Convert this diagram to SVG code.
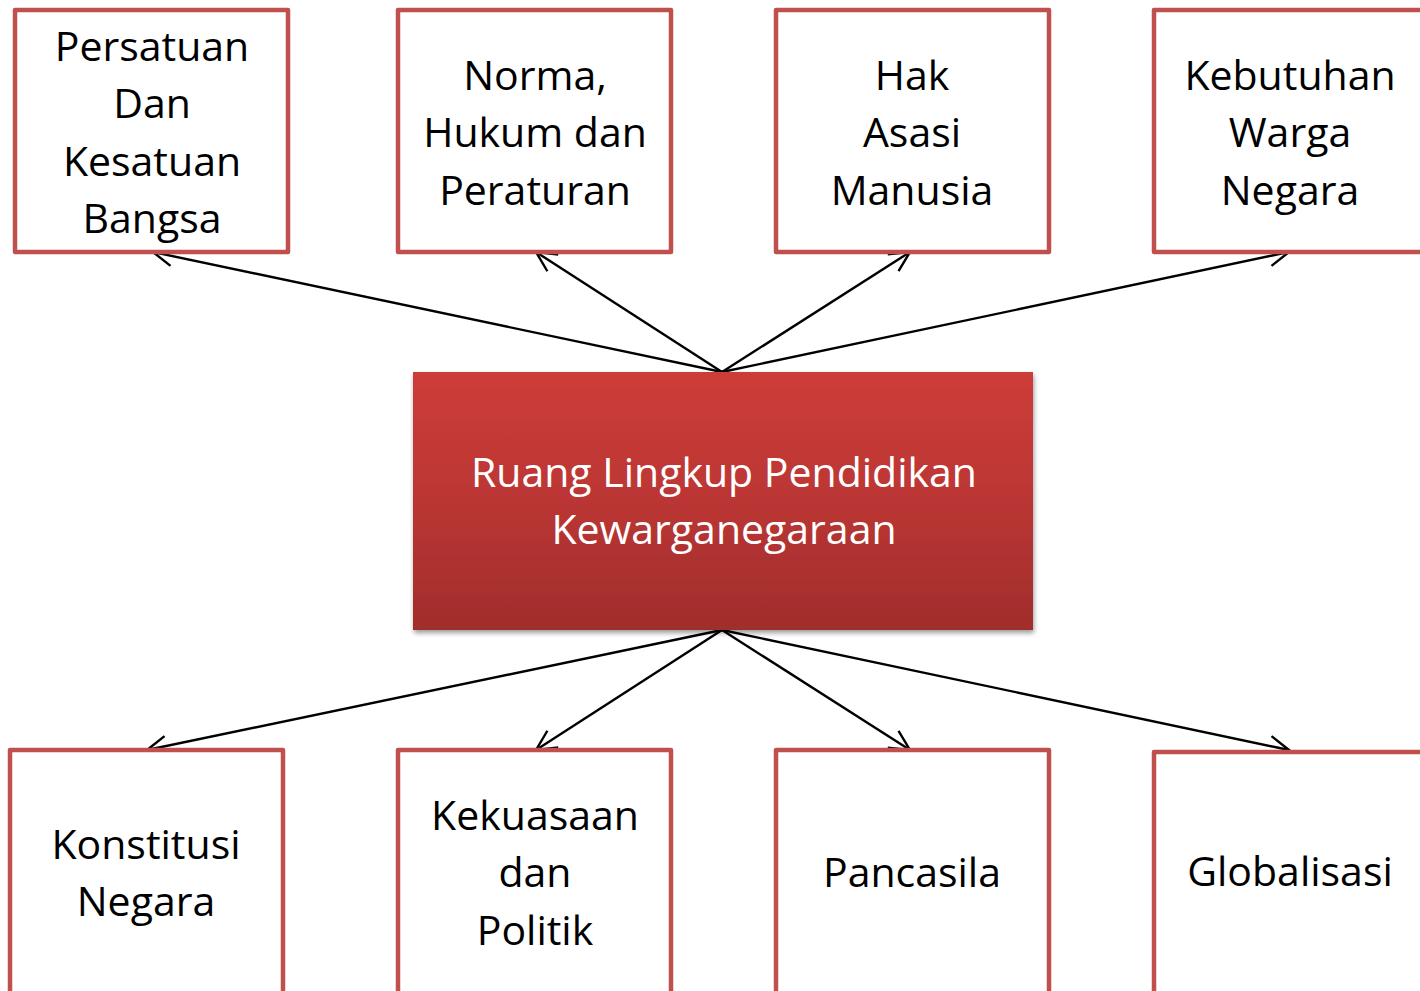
<svg xmlns="http://www.w3.org/2000/svg" width="1420" height="991" viewBox="0 0 1420 991">
<style>
.box{fill:#fff;stroke:#C0504D;stroke-width:4.5;stroke-linejoin:round}
.t{font-family:"Open Sans","Liberation Sans",sans-serif;font-size:41px;fill:#000;text-anchor:middle}
.w{fill:#fff}
.c{stroke:#000;stroke-width:2.4;fill:none;marker-end:url(#ah)}
</style>
<defs>
<linearGradient id="g" x1="0" y1="0" x2="0" y2="1">
<stop offset="0" stop-color="#CD3C39"/>
<stop offset="0.5" stop-color="#BB3634"/>
<stop offset="1" stop-color="#A02D2B"/>
</linearGradient>
<filter id="sh" x="-5%" y="-5%" width="110%" height="115%">
<feGaussianBlur in="SourceAlpha" stdDeviation="2.5"/>
<feOffset dx="1" dy="3"/>
<feComponentTransfer><feFuncA type="linear" slope="0.4"/></feComponentTransfer>
<feMerge><feMergeNode/><feMergeNode in="SourceGraphic"/></feMerge>
</filter>
<marker id="ah" markerWidth="26" markerHeight="26" refX="21" refY="11" orient="auto" markerUnits="userSpaceOnUse">
<path d="M1,1 L21,11 L1,21" fill="none" stroke="#000" stroke-width="2.4"/>
</marker>
</defs>
<g id="connectors">
<line class="c" x1="722" y1="372" x2="153" y2="252"/>
<line class="c" x1="722" y1="372" x2="536" y2="252"/>
<line class="c" x1="722" y1="372" x2="910" y2="252"/>
<line class="c" x1="722" y1="372" x2="1289" y2="252"/>
<line class="c" x1="722" y1="630" x2="147" y2="750"/>
<line class="c" x1="722" y1="630" x2="536" y2="750"/>
<line class="c" x1="722" y1="630" x2="910" y2="750"/>
<line class="c" x1="722" y1="630" x2="1289" y2="750"/>
</g>
<g id="center">
<rect x="413" y="372" width="620" height="258" fill="url(#g)" filter="url(#sh)"/>
<text class="t w" x="724" y="487">Ruang Lingkup Pendidikan</text>
<text class="t w" x="724" y="544">Kewarganegaraan</text>
</g>
<g id="n1">
<rect class="box" x="15" y="10" width="273" height="242"/>
<text class="t" x="152" y="61">Persatuan</text>
<text class="t" x="152" y="118">Dan</text>
<text class="t" x="152" y="176">Kesatuan</text>
<text class="t" x="152" y="233">Bangsa</text>
</g>
<g id="n2">
<rect class="box" x="398" y="10" width="273" height="242"/>
<text class="t" x="535" y="90">Norma,</text>
<text class="t" x="535" y="147">Hukum dan</text>
<text class="t" x="535" y="205">Peraturan</text>
</g>
<g id="n3">
<rect class="box" x="776" y="10" width="273" height="242"/>
<text class="t" x="912" y="90">Hak</text>
<text class="t" x="912" y="147">Asasi</text>
<text class="t" x="912" y="205">Manusia</text>
</g>
<g id="n4">
<rect class="box" x="1154" y="10" width="300" height="242"/>
<text class="t" x="1290" y="90">Kebutuhan</text>
<text class="t" x="1290" y="147">Warga</text>
<text class="t" x="1290" y="205">Negara</text>
</g>
<g id="n5">
<rect class="box" x="10" y="750" width="273" height="260"/>
<text class="t" x="146" y="859">Konstitusi</text>
<text class="t" x="146" y="916">Negara</text>
</g>
<g id="n6">
<rect class="box" x="398" y="750" width="273" height="260"/>
<text class="t" x="535" y="830">Kekuasaan</text>
<text class="t" x="535" y="887">dan</text>
<text class="t" x="535" y="945">Politik</text>
</g>
<g id="n7">
<rect class="box" x="776" y="750" width="273" height="260"/>
<text class="t" x="912" y="887">Pancasila</text>
</g>
<g id="n8">
<rect class="box" x="1154" y="752" width="300" height="260"/>
<text class="t" x="1290" y="886">Globalisasi</text>
</g>
</svg>
